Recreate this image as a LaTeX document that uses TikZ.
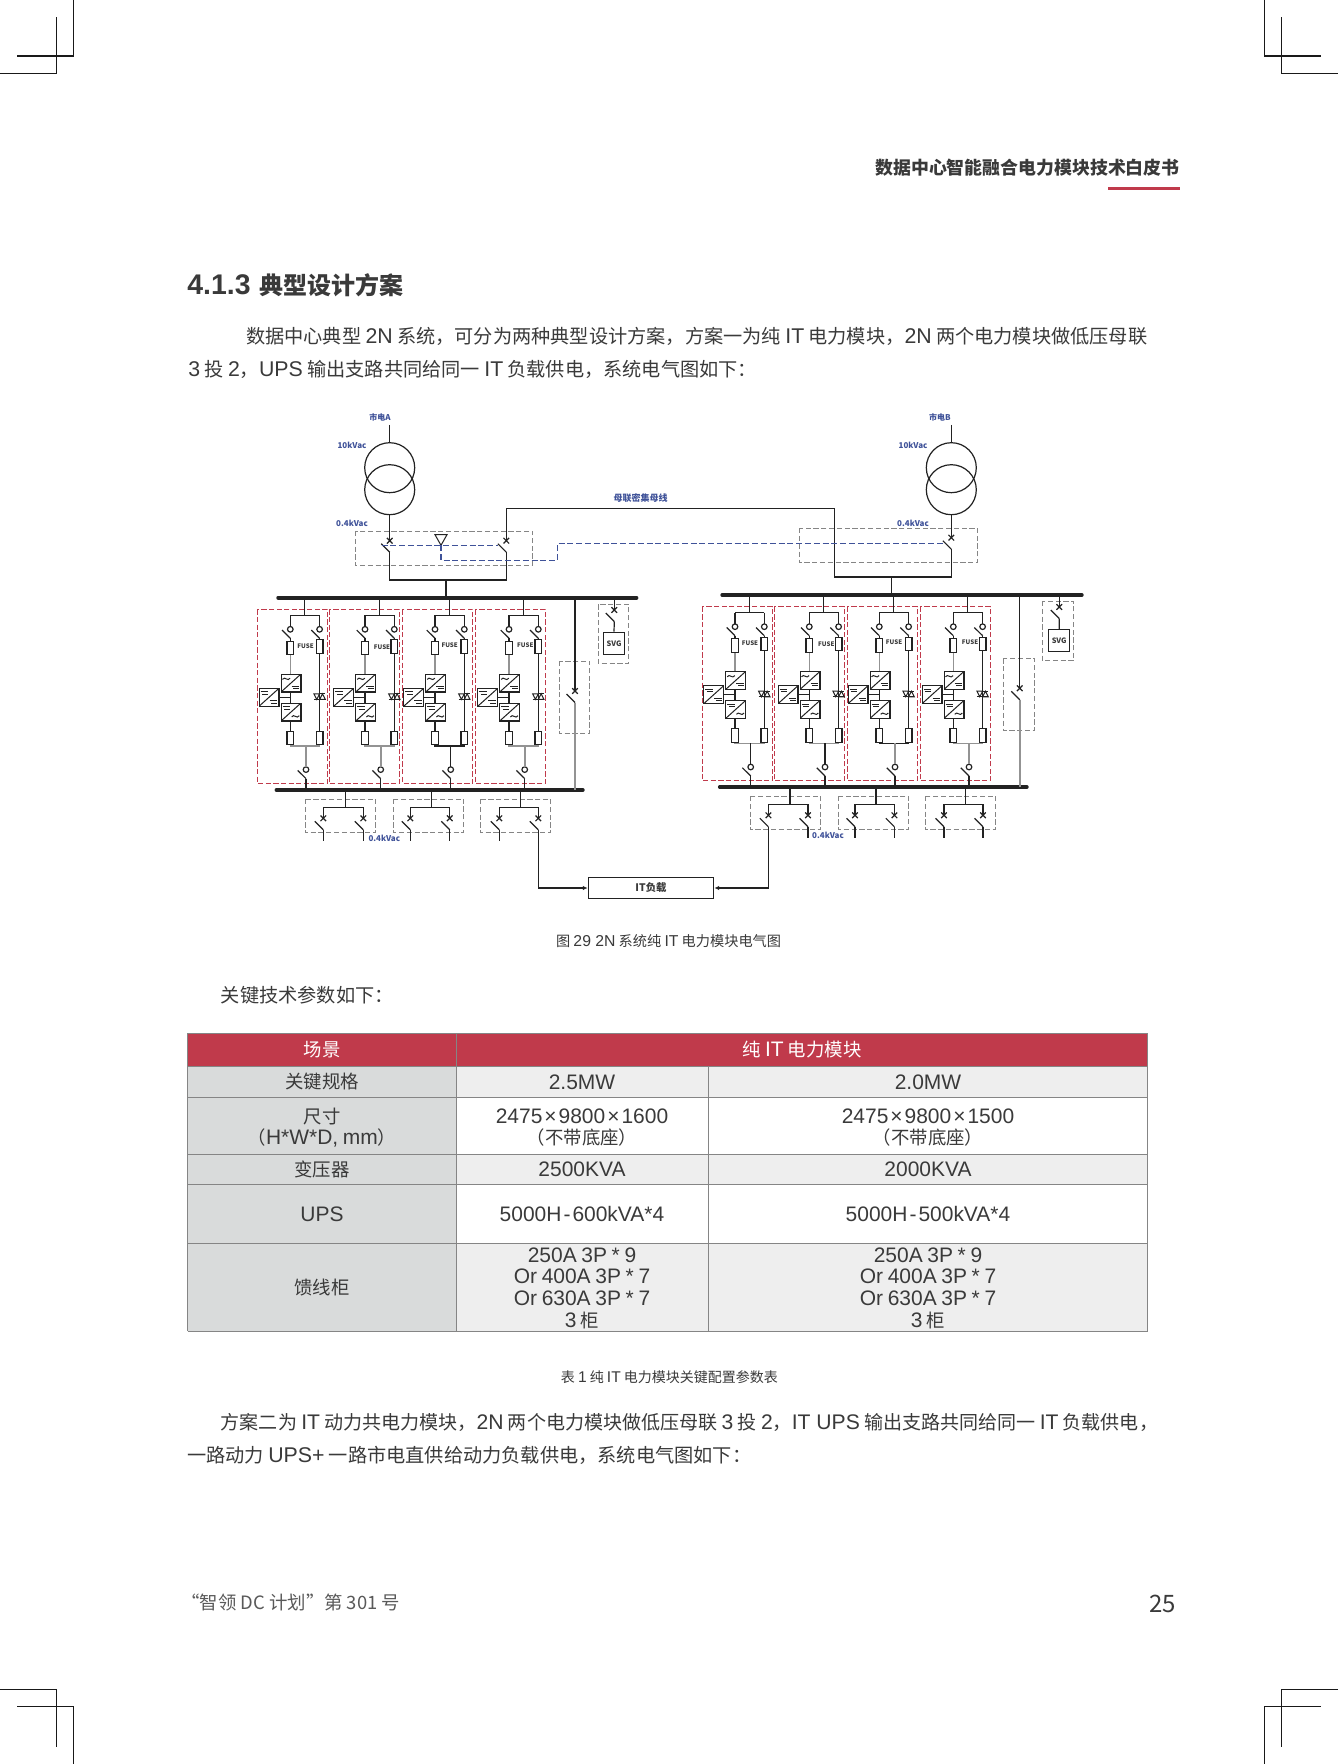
\documentclass[tikz,border=0pt]{standalone}
\usepackage{fontspec}
\setmainfont{Noto Sans CJK SC}
\newfontfamily\lafont[Scale=1.11]{Liberation Sans}
\newfontfamily\lbfont[Scale=1.14]{Liberation Sans}
\newcommand{\la}[1]{{\lafont #1}}
\newcommand{\lb}[1]{{\lbfont\spaceskip=.8\fontdimen2\font\relax #1}}
\usetikzlibrary{positioning}
\usetikzlibrary{shapes,shapes.geometric,arrows,arrows.meta,fit,calc}
\definecolor{txtc}{HTML}{3A3A3A}
\definecolor{redc}{HTML}{C03A4B}
\definecolor{bluec}{HTML}{3F5299}
\definecolor{wirec}{HTML}{222222}
\definecolor{boxc}{HTML}{858585}
\definecolor{colc}{HTML}{D9DBDB}
\definecolor{altc}{HTML}{EEEEEE}
\tikzset{
  wire/.style={draw=wirec,line width=.6pt},
  grayw/.style={draw=gray!85,line width=.8pt},
  busbar/.style={draw=wirec,line width=1.8pt,line cap=round,shorten >=.7pt,shorten <=.7pt},
  crop/.style={draw=black!90,line width=.6pt},
  grayframe/.style={draw=boxc,line width=.45pt,dash pattern=on 2.6pt off 1.3pt},
  redframe/.style={draw=redc,line width=.45pt,dash pattern=on 2.6pt off 1.2pt},
  ctrl/.style={draw=bluec,line width=.55pt,dash pattern=on 3pt off 1.4pt},
  conv/.style={draw=wirec,line width=.6pt,minimum width=9.9pt,minimum height=8.9pt,inner sep=0,
    path picture={\draw[line width=.5pt,draw=wirec] (path picture bounding box.south west) -- (path picture bounding box.north east);}},
  fuse/.style={draw=wirec,line width=.6pt,minimum width=3.4pt,minimum height=6.8pt,inner sep=0},
  loadbox/.style={draw=wirec,line width=.6pt,minimum width=62.7pt,minimum height=10.3pt,inner sep=0},
  svgbox/.style={draw=wirec,line width=.6pt,minimum width=10.7pt,minimum height=11pt,inner sep=0,
    font=\fontsize{3.7}{4}\selectfont\bfseries,text=txtc},
  vlabel/.style={inner sep=0,text=bluec,font=\fontsize{4}{5}\selectfont\bfseries},
  fuselabel/.style={inner sep=0,text=txtc,font=\fontsize{3.1}{4}\selectfont\bfseries},
  txt/.style={inner sep=0,anchor=base west,text=txtc,font=\fontsize{9.6}{12}\selectfont},
  capt/.style={inner sep=0,anchor=base,text=txtc,font=\fontsize{7.1}{9}\selectfont},
  tbl/.style={inner sep=0,align=center,text=txtc,font=\fontsize{9.2}{10.8}\selectfont},
  brk/.pic={
    \draw[wire] (-2.8,-2.8) -- (2.8,2.8) (-2.8,2.8) -- (2.8,-2.8);
    \draw[wire] (-8.5,3) -- (0,11.5);
    \coordinate (-in) at (0,0);
    \coordinate (-out) at (0,11.5);
  },
  disc/.pic={
    \draw[wire] (0,0) circle (2.8);
    \draw[wire] (-8.3,.8) -- (0,9);
    \coordinate (-in) at (0,-2.8);
    \coordinate (-out) at (0,9);
  },
  scr/.pic={
    \draw[line width=.5pt,draw=wirec] (-5.7,-2.8) -- (0,-2.8) -- (-2.85,2.8) -- cycle;
    \draw[line width=.5pt,draw=wirec] (5.7,2.8) -- (0,2.8) -- (2.85,-2.8) -- cycle;
    \draw[line width=.5pt,draw=wirec] (-5.7,2.8) -- (5.7,2.8) (0,-2.8) -- (5.7,-2.8);
  },
  wave/.pic={\draw[line width=.5pt,draw=wirec] (-3.8,.6) .. controls (-1.6,-3.2) and (1.4,3.4) .. (3.8,-.6);},
  dcbar/.pic={\draw[line width=.5pt,draw=wirec] (-3.8,-1.2) -- (3.8,-1.2) (-2.2,1.2) -- (3.8,1.2);}
}
\begin{document}
\begin{tikzpicture}[x=.5pt,y=-.5pt]
  \fill[white] (0,0) rectangle (1338,1764);
  \useasboundingbox (0,0) rectangle (1338,1764);

  \draw[crop] (73.3,0) -- (73.3,56) -- (17.3,56);
  \draw[crop] (56.7,17.3) -- (56.7,73.3) -- (0,73.3);
  \draw[crop] (1264.7,0) -- (1264.7,56) -- (1320.7,56);
  \draw[crop] (1281.3,17.3) -- (1281.3,73.3) -- (1338,73.3);
  \draw[crop] (0,1689.3) -- (56.7,1689.3) -- (56.7,1746.7);
  \draw[crop] (17.3,1706.3) -- (73.3,1706.3) -- (73.3,1764);
  \draw[crop] (1338,1689.3) -- (1281.3,1689.3) -- (1281.3,1746.7);
  \draw[crop] (1320.7,1706.3) -- (1264.7,1706.3) -- (1264.7,1764);

  \node[txt,anchor=base east,font=\fontsize{8.95}{11}\selectfont\bfseries] (hdr) at (1180,174.5) {数据中心智能融合电力模块技术白皮书};
  \fill[redc] (1108,187.2) rectangle (1180,190.2);
  \node[txt,font=\fontsize{12}{14}\selectfont\bfseries] (sect) at (187,294.5) {{\fontsize{12.8}{14}\lafont\bfseries 4.1.3}\kern1.5pt{} 典型设计方案};
  \node[txt] (p1a) at (245.6,343.5) {数据中心典型 \la{2N} 系统，可分为两种典型设计方案，方案一为纯 \la{IT} 电力模块，\la{2N} 两个电力模块做低压母联};
  \node[txt] (p1b) at (188,377) {\la{3} 投 \la{2}，\la{UPS} 输出支路共同给同一 \la{IT} 负载供电，系统电气图如下：};

  % mains and transformers
  \foreach \n/\tx/\lx/\ln in {a/389.7/380/市电A,b/951.3/940/市电B}{
    \node[vlabel] (\n-src) at (\lx,417) {\ln};
    \coordinate (\n-top) at (\tx,425);
    \coordinate (\n-bot) at (\tx,515);
    \node[circle,draw=wirec,line width=.6pt,minimum size=25pt,inner sep=0] (\n-tu) at (\tx,467.7) {};
    \node[circle,draw=wirec,line width=.6pt,minimum size=25pt,inner sep=0] (\n-td) at (\tx,489.7) {};
    \draw[wire] (\n-top) -- (\n-tu.north);
    \draw[wire] (\n-td.south) -- (\n-bot);
  }
  \node[vlabel] (a-hv) at (352,445) {10kVac};
  \node[vlabel] (a-lv) at (352,523) {0.4kVac};
  \node[vlabel] (b-hv) at (913,445) {10kVac};
  \node[vlabel] (b-lv) at (913,523) {0.4kVac};
  \node[vlabel,font=\fontsize{4.5}{5}\selectfont\bfseries] (tie) at (640.7,497.7) {母联密集母线};

  \draw[grayframe] (355.3,531) rectangle (532.7,565.3);
  \draw[grayframe] (799.3,528.3) rectangle (977.7,562.3);

  \coordinate (busAtl) at (276.7,597.7);
  \coordinate (busAtr) at (638,597.7);
  \coordinate (busBtl) at (720.7,595);
  \coordinate (busBtr) at (1083.3,595);
  \coordinate (busAbl) at (275,790);
  \coordinate (busAbr) at (584.3,790);
  \coordinate (busBbl) at (718.3,787);
  \coordinate (busBbr) at (1028.3,787);

  \pic (qa) at (389.7,540.7) {brk};
  \pic (qt) at (506.3,540.7) {brk};
  \pic (qb) at (951.3,537.7) {brk};
  \draw[wire] (a-bot) -- (qa-in);
  \draw[wire] (b-bot) -- (qb-in);
  \coordinate (tiea) at (506.3,508.3);
  \coordinate (tieb) at (834.3,508.3);
  \coordinate (joina) at (446,580);
  \coordinate (joinb) at (891.3,577);
  \draw[wire] (qt-in) -- (tiea) -- (tieb) -- (tieb |- joinb) -- (joinb);
  \draw[wire] (qb-out) -- (qb-out |- joinb) -- (joinb);
  \draw[wire] (qa-out) -- (qa-out |- joina) -- (qt-out |- joina) -- (qt-out);
  \draw[wire] (joina) -- (joina |- busAtl);
  \draw[wire] (joinb) -- (joinb |- busBtl);

  \coordinate (trip) at (441,545.3);
  \draw[wire,line width=.5pt] (trip) -- ++(-6,-10.6) -- ++(12,0) -- cycle;
  \draw[ctrl] (381.5,545.3) -- (498,545.3);
  \draw[ctrl] (trip) -- (441,560.3) -- (557.3,560.3) -- (557.3,543.3) -- (943,543.3);

  \draw[busbar] (busAtl) -- (busAtr);
  \draw[busbar] (busBtl) -- (busBtr);
  \draw[busbar] (busAbl) -- (busAbr);
  \draw[busbar] (busBbl) -- (busBbr);

  % power modules
  \foreach \n/\bx/\by/\bl/\fx/\fy/\bt/\bb/\wc/\ws in {
    a1/290.3/615.3/-33/15.3/31.3/busAtl/busAbl/grayw/grayw,
    a2/365/615.3/-35.7/17/32.3/busAtl/busAbl/grayw/grayw,
    a3/435/615.3/-32.3/14.7/30.3/busAtl/busAbl/wire/wire,
    a4/509/615.3/-33.7/16.3/30.3/busAtl/busAbl/grayw/grayw,
    b1/735/612.7/-32.7/15/30.7/busBtl/busBbl/grayw/wire,
    b2/809.3/612.7/-35/17/31.7/busBtl/busBbl/grayw/wire,
    b3/879.3/612.7/-32/14.7/29.7/busBtl/busBbl/wire/grayw,
    b4/953.3/612.7/-33/16.7/29.7/busBtl/busBbl/grayw/grayw}{
  \begin{scope}[shift={(\bx,\by)}]
    \draw[redframe] (\bl,-6) rectangle ++(70,174);
    \coordinate (\n-tl) at (0,0);
    \coordinate (\n-tm) at (14.3,0);
    \coordinate (\n-tr) at (29.3,0);
    \coordinate (\n-ll) at (0,130.6);
    \coordinate (\n-lm) at (15.7,130.6);
    \coordinate (\n-lr) at (29.3,130.6);
    \draw[wire] (\n-tl) -- (\n-tr);
    \draw[wire] (\n-tm) -- (\n-tm |- \bt);
    \pic (\n-dl) at (0,14) {disc};
    \pic (\n-dr) at (29.3,14) {disc};
    \pic (\n-do) at (15.7,154.3) {disc};
    \node[fuse] (\n-fa) at (0,32.7) {};
    \node[fuse] (\n-fb) at (29.3,31.3) {};
    \node[fuse] (\n-fc) at (0,122.7) {};
    \node[fuse] (\n-fd) at (29.3,122.7) {};
    \node[conv] (\n-cu) at (.7,67.7) {};
    \node[conv] (\n-cd) at (.7,96.7) {};
    \node[conv] (\n-cs) at (-21.3,82) {};
    \pic at (-4,63.5) {wave};
    \pic at (5.2,72) {dcbar};
    \pic at (-4,92.5) {dcbar};
    \pic at (5.2,101) {wave};
    \pic at (-26,77.5) {dcbar};
    \pic at (-16.8,86.5) {dcbar};
    \pic (\n-sc) at (29.3,81.3) {scr};
    \node[fuselabel] (\n-fl) at (\fx,\fy) {FUSE};
    \draw[wire] (\n-tl) -- (\n-dl-in);
    \draw[wire] (\n-tr) -- (\n-dr-in);
    \draw[wire] (\n-dl-out) -- (\n-fa.north);
    \draw[wire] (\n-dr-out) -- (\n-fb.north);
    \draw[grayw] (\n-fa.south) -- (\n-fa.south |- \n-cu.north);
    \draw[wire] (\n-cu.south -| \n-tl) -- (\n-cd.north -| \n-tl);
    \draw[wire] (\n-cs.east) -- (\n-cs.east -| \n-tl);
    \draw[wire] (\n-cd.south -| \n-tl) -- (\n-fc.north);
    \draw[wire] (\n-fb.south) -- (\n-fd.north);
    \draw[\wc] (\n-fc.south) -- (\n-ll) -- (\n-lr) -- (\n-fd.south);
    \draw[\ws] (\n-lm) -- (\n-do-in);
    \draw[wire] (\n-do-out) -- (\n-do-out |- \bb);
  \end{scope}
  }

  % svg and bypass branches
  \foreach \n/\sx/\sy/\bt/\fl/\ft/\fr/\fb/\bxl/\bxt/\bxr/\bxb in {
    a/614.3/610/busAtl/598.3/604.3/628.7/663.3/603.3/632.3/624.7/654.3,
    b/1059.3/607/busBtl/1042.3/601/1073.7/660.7/1048.3/629.3/1070/651.7}{
    \draw[grayframe] (\fl,\ft) rectangle (\fr,\fb);
    \pic (\n-qs) at (\sx,\sy) {brk};
    \node[svgbox] (\n-svg) at ({(\bxl+\bxr)/2},{(\bxt+\bxb)/2}) {SVG};
    \draw[wire] (\n-qs-in) -- (\n-qs-in |- \bt);
    \draw[wire] (\n-qs-out) -- (\n-svg.north);
  }
  \foreach \n/\px/\py/\bt/\bb/\fl/\ft/\fr/\fb in {
    a/575/691/busAtl/busAbl/559.3/661/589.7/733.7,
    b/1019.7/688.3/busBtl/busBbl/1003.3/658.3/1034.7/730.3}{
    \draw[grayframe] (\fl,\ft) rectangle (\fr,\fb);
    \pic (\n-qp) at (\px,\py) {brk};
    \draw[wire] (\n-qp-in) -- (\n-qp-in |- \bt);
    \draw[grayw] (\n-qp-out) -- (\n-qp-out |- \bb);
  }

  % output feeders
  \foreach \n/\sx/\lx/\rx/\fl/\fr/\dy/\bb/\ely/\ery in {
    fa1/345.3/323.3/363.3/305.3/375.7/0/busAbl/841/841,
    fa2/431.3/410.3/449.7/393.7/463.7/0/busAbl/841/841,
    fa3/520.7/499.3/538.3/480.3/550.7/0/busAbl/841/829.8,
    fb1/790/768.4/808/750/820.4/-3/busBbl/829.8/841,
    fb2/876/855/894.4/838.4/908.4/-3/busBbl/841/841,
    fb3/965.4/944/983/925/995.4/-3/busBbl/841/841}{
  \begin{scope}[yshift=\dy*.5pt*-1]
    \draw[grayframe] (\fl,799) rectangle (\fr,832.7);
    \coordinate (\n-up) at (\sx,807.3);
    \coordinate (\n-ul) at (\lx,807.3);
    \coordinate (\n-ur) at (\rx,807.3);
    \pic (\n-ql) at (\lx,818.3) {brk};
    \pic (\n-qr) at (\rx,818.3) {brk};
    \coordinate (\n-el) at (\lx,\ely);
    \coordinate (\n-er) at (\rx,\ery);
    \draw[wire] (\n-up) -- (\n-up |- \bb);
    \draw[wire] (\n-ql-in) -- (\n-ul) -- (\n-ur) -- (\n-qr-in);
    \draw[wire] (\n-ql-out) -- (\n-el);
    \draw[wire] (\n-qr-out) -- (\n-er);
  \end{scope}
  }
  \node[vlabel] (a-out) at (384.3,838) {0.4kVac};
  \node[vlabel] (b-out) at (828,835) {0.4kVac};
  \node[loadbox,text=txtc,font=\fontsize{5.2}{6}\selectfont\bfseries] (load) at (651,888) {IT负载};
  \draw[wire,-{Latex[length=2.4pt,width=2.2pt]}] (fa3-qr-out) |- (load.west);
  \draw[wire,-{Latex[length=2.4pt,width=2.2pt]}] (fb1-ql-out) |- (load.east);

  \node[capt] (cap1) at (668.6,946.5) {图 \la{29 2N} 系统纯 \la{IT} 电力模块电气图};
  \node[txt] (p2) at (220.5,1002) {关键技术参数如下：};

  % table
  \fill[redc] (187.5,1033.3) rectangle (1147.5,1066.3);
  \fill[colc] (187.5,1066.3) rectangle (456.3,1331.3);
  \fill[altc] (456.3,1066.3) rectangle (1147.5,1097.3);
  \fill[altc] (456.3,1154.3) rectangle (1147.5,1184.3);
  \fill[altc] (456.3,1243.3) rectangle (1147.5,1331.3);
  \foreach \y in {1033.3,1066.3,1097.3,1154.3,1184.3,1243.3,1331.3}
    \draw[draw=boxc,line width=.5pt] (187.5,\y) -- (1147.5,\y);
  \foreach \x/\y in {187.5/1033.3,456.3/1033.3,708/1066.3,1147.5/1033.3}
    \draw[draw=boxc,line width=.35pt] (\x,\y) -- (\x,1331.3);
  \node[tbl,text=white] (r0a) at (322,1050) {场景};
  \node[tbl,text=white] (r0b) at (802,1050) {纯 \lb{IT} 电力模块};
  \node[tbl] (r1a) at (322,1082) {关键规格};
  \node[tbl] (r1b) at (582,1082.5) {\lb{2.5MW}};
  \node[tbl] (r1c) at (928,1082.5) {\lb{2.0MW}};
  \node[tbl] (r2a) at (322,1127.5) {尺寸\\（\lb{H*W*D, mm}）};
  \node[tbl] (r2b) at (582,1127.5) {\lb{2475\kern1pt×\kern1pt9800\kern1pt×\kern1pt1600}\\（不带底座）};
  \node[tbl] (r2c) at (928,1127.5) {\lb{2475\kern1pt×\kern1pt9800\kern1pt×\kern1pt1500}\\（不带底座）};
  \node[tbl] (r3a) at (322,1169.5) {变压器};
  \node[tbl] (r3b) at (582,1169.5) {\lb{2500KVA}};
  \node[tbl] (r3c) at (928,1169.5) {\lb{2000KVA}};
  \node[tbl] (r4a) at (322,1214) {\lb{UPS}};
  \node[tbl] (r4b) at (582,1214) {\lb{5000H\kern1pt-\kern1pt600kVA*4}};
  \node[tbl] (r4c) at (928,1214) {\lb{5000H\kern1pt-\kern1pt500kVA*4}};
  \node[tbl] (r5a) at (322,1287.5) {馈线柜};
  \node[tbl] (r5b) at (582,1288) {\lb{250A 3P * 9}\\\lb{Or 400A 3P * 7}\\\lb{Or 630A 3P * 7}\\\lb{3} 柜};
  \node[tbl] (r5c) at (928,1288) {\lb{250A 3P * 9}\\\lb{Or 400A 3P * 7}\\\lb{Or 630A 3P * 7}\\\lb{3} 柜};

  \node[capt,font=\fontsize{7}{9}\selectfont] (cap2) at (669.4,1382) {表 \la{1} 纯 \la{IT} 电力模块关键配置参数表};
  \node[txt,font=\fontsize{9.52}{12}\selectfont] (p3a) at (220.5,1429) {方案二为 \la{IT} 动力共电力模块，\la{2N} 两个电力模块做低压母联 \la{3} 投 \la{2}，\la{IT UPS} 输出支路共同给同一 \la{IT} 负载供电，};
  \node[txt] (p3b) at (186.8,1462.5) {一路动力 \la{UPS+} 一路市电直供给动力负载供电，系统电气图如下：};

  \node[txt,text=black!65,font=\fontsize{9.2}{11}\selectfont] (foot) at (181,1609) {“智领 DC 计划”第 301 号};
  \node[txt,anchor=base east,font=\fontsize{12}{14}\selectfont] (page) at (1176.6,1612) {25};
\end{tikzpicture}
\end{document}
